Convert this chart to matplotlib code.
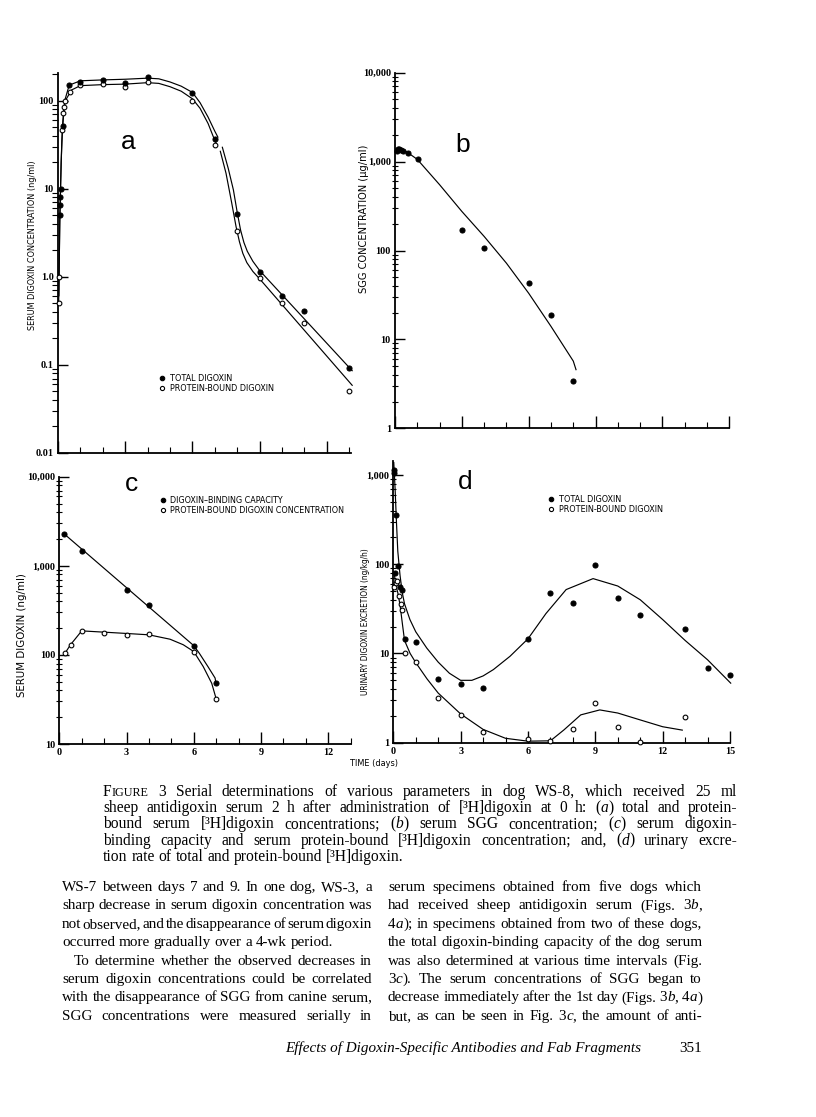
import os
import matplotlib
matplotlib.use("Agg")
import matplotlib.pyplot as plt
import numpy as np
from matplotlib import font_manager
from matplotlib.lines import Line2D
from matplotlib.ticker import LogLocator, NullFormatter

nan = np.nan

# ---- panel a: serum digoxin (ng/ml)
a_total_t = [0.08, 0.09, 0.1, 0.12, 0.21, 0.5, 1, 2, 3, 4, 6, 7, 8, 9, 10, 11, 13]
a_total_v = [5, 6.5, 8, 10, 51, 150, 164, 170, 160, 184, 121, 37, 5.1, 1.14, 0.61, 0.41, 0.093]
a_bound_t = [0.04, 0.05, 0.2, 0.24, 0.27, 0.31, 0.54, 1, 2, 3, 4, 6, 7, 8, 9, 10, 11, 13]
a_bound_v = [0.51, 1.0, 47, 73, 85, 99, 127, 150, 153, 144, 162, 100, 31, 3.35, 0.96, 0.51, 0.30, 0.051]
a_total_fit_t = [0.04, 0.08, 0.12, 0.17, 0.22, 0.3, 0.5, 1, 2, 3, 4, 4.5, 5, 5.5, 6, 6.34, 6.7,
                 7.0, 7.15, nan, 7.33, 7.6, 7.83, 8.0, 8.15, 8.3, 8.45, 8.7, 9.0, 13.15]
a_total_fit_v = [0.6, 5, 12, 35, 60, 100, 150, 168, 172, 175, 180, 177, 163, 146, 124, 95, 65,
                 45, 38, nan, 30, 17, 9.7, 5.4, 3.4, 2.45, 1.95, 1.5, 1.18, 0.085]
a_bound_fit_t = [0.03, 0.08, 0.14, 0.2, 0.26, 0.33, 0.6, 1, 2, 3, 4, 4.5, 5, 5.5, 6, 6.34, 6.7,
                 6.95, 7.08, nan, 7.24, 7.5, 7.75, 7.95, 8.1, 8.25, 8.43, 8.7, 9.03, 13.15]
a_bound_fit_v = [0.5, 4, 20, 47, 75, 100, 132, 148, 152, 154, 160, 157, 144, 128, 105, 82, 55,
                 38, 32, nan, 27, 15, 7, 3.7, 2.5, 1.85, 1.45, 1.15, 0.93, 0.058]

# ---- panel b: SGG (ug/ml)
b_t = [0.08, 0.13, 0.18, 0.25, 0.36, 0.57, 1.02, 3, 4, 6, 7, 8]
b_v = [1300, 1380, 1400, 1350, 1320, 1262, 1060, 168, 108, 43, 18.8, 3.4]
b_fit_t = [0.02, 0.5, 1, 2, 3, 4, 5, 6, 7, 8, 8.13]
b_fit_v = [1400, 1300, 1060, 550, 275, 144, 72, 33, 14, 5.7, 4.5]

# ---- panel c: binding capacity / protein-bound (ng/ml)
c_cap_t = [0.2, 1, 3, 4, 6, 7]
c_cap_v = [2300, 1450, 530, 360, 127, 48]
c_bound_t = [0.25, 0.5, 1, 2, 3, 4, 6, 7]
c_bound_v = [104, 130, 186, 175, 168, 170, 109, 32]
c_cap_fit_t = [0.2, 6.0, 6.25, 6.63, 6.95, 7.0]
c_cap_fit_v = [2300, 127, 104, 74, 55, 46]
c_bound_fit_t = [0.25, 0.5, 1, 2, 3, 4, 4.94, 5.53, 6, 6.42, 6.8, 7.0]
c_bound_fit_v = [104, 130, 186, 180, 174, 168, 150, 130, 109, 74, 48, 32]

# ---- panel d: urinary excretion (ng/kg/h)
d_total_t = [0.02, 0.04, 0.12, 0.08, 0.22, 0.3, 0.4, 0.5, 1, 2, 3, 4, 6, 7, 8, 9, 10, 11, 13, 14, 15]
d_total_v = [1150, 1050, 360, 80, 96, 56, 52, 14.6, 13.5, 5.2, 4.6, 4.1, 14.6, 48, 36.5, 97, 42, 27, 18.6, 6.9, 5.7]
d_bound_t = [0.05, 0.1, 0.15, 0.25, 0.35, 0.4, 0.5, 1, 2, 3, 4, 6, 7, 8, 9, 10, 11, 13]
d_bound_v = [55, 62, 65, 44, 36, 31, 10.2, 8.0, 3.2, 2.05, 1.31, 1.09, 1.04, 1.41, 2.81, 1.51, 1.03, 1.92]
d_total_fit_t = [0.02, 0.08, 0.14, 0.2, 0.3, 0.4, 0.5, 0.74, 1, 1.49, 2, 2.5, 3, 3.5, 4, 4.46, 5.2,
                 6, 6.8, 7.7, 8.9, 10, 11, 12, 13, 14, 15.05]
d_total_fit_v = [1400, 700, 300, 140, 75, 48, 36, 24, 17.5, 11.5, 8, 6, 5.0, 5.0, 5.6, 6.6, 9.3,
                 14.6, 28, 52, 69, 57, 40, 24, 14, 8.5, 4.6]
d_bound_fit_t = [0.04, 0.1, 0.2, 0.3, 0.4, 0.5, 0.75, 1, 1.5, 2, 3, 4, 5, 6, 7, 7.6, 8.35, 9.2,
                 10, 11, 12, 12.9]
d_bound_fit_v = [80, 60, 48, 35, 22, 14, 10, 7.9, 5.2, 3.6, 2.1, 1.41, 1.12, 1.04, 1.05, 1.39,
                 2.05, 2.33, 2.15, 1.8, 1.51, 1.38]

caption = [
    "FIGURE 3  Serial determinations of various parameters in dog WS-8, which received 25 ml",
    "sheep antidigoxin serum 2 h after administration of [³H]digoxin at 0 h: (_a_) total and protein-",
    "bound serum [³H]digoxin concentrations; (_b_) serum SGG concentration; (_c_) serum digoxin-",
    "binding capacity and serum protein-bound [³H]digoxin concentration; and, (_d_) urinary excre-",
    "tion rate of total and protein-bound [³H]digoxin.",
]
left_col = [
    "WS-7 between days 7 and 9. In one dog, WS-3, a",
    "sharp decrease in serum digoxin concentration was",
    "not observed, and the disappearance of serum digoxin",
    "occurred more gradually over a 4-wk period.",
    "To determine whether the observed decreases in",
    "serum digoxin concentrations could be correlated",
    "with the disappearance of SGG from canine serum,",
    "SGG concentrations were measured serially in",
]
right_col = [
    "serum specimens obtained from five dogs which",
    "had received sheep antidigoxin serum (Figs. 3_b_,",
    "4_a_); in specimens obtained from two of these dogs,",
    "the total digoxin-binding capacity of the dog serum",
    "was also determined at various time intervals (Fig.",
    "3_c_). The serum concentrations of SGG began to",
    "decrease immediately after the 1st day (Figs. 3_b_, 4_a_)",
    "but, as can be seen in Fig. 3_c_, the amount of anti-",
]
footer = "Effects of Digoxin-Specific Antibodies and Fab Fragments"
page_no = "351"

SERIF = 'Liberation Serif'
SANS = 'Liberation Sans'


def find_narrow():
    for f in font_manager.fontManager.ttflist:
        base = os.path.basename(f.fname).lower()
        if ('narrow' in base or 'condensed' in base) and 'sans' in base and not any(
                k in base for k in ('bold', 'italic', 'oblique', 'mono', 'light', 'semi', 'extra')):
            return font_manager.FontProperties(fname=f.fname)
    return font_manager.FontProperties(family=SANS)


NARROW = find_narrow()

W, H = 816, 1117
fig = plt.figure(figsize=(W / 100, H / 100), dpi=100)
fig.patch.set_facecolor('white')
renderer = fig.canvas.get_renderer()


def fp_size(size):
    p = NARROW.copy()
    p.set_size(size)
    return p


def sans_w(s, size):
    t = fig.text(0, 0, s, fontproperties=fp_size(size))
    w = t.get_window_extent(renderer).width
    t.remove()
    return w


def fit_sans(s, target, base=8.0, cap=9.0):
    return min(cap, base * target / sans_w(s, base))


def add_axes(left, right, top, bottom):
    return fig.add_axes([left / W, 1 - bottom / H, (right - left) / W, (bottom - top) / H])


def style(ax, xmax, xlim, ylim, yvals, ylabels, xlabels):
    ax.set_yscale('log')
    ax.set_xlim(0, xlim)
    ax.set_ylim(*ylim)
    for s in ['top', 'right']:
        ax.spines[s].set_visible(False)
    for s in ['left', 'bottom']:
        ax.spines[s].set_linewidth(1.3)
    ax.set_yticks(yvals)
    ax.set_yticklabels(ylabels)
    ax.yaxis.set_minor_locator(LogLocator(base=10, subs=range(2, 10)))
    ax.yaxis.set_minor_formatter(NullFormatter())
    ax.tick_params(axis='y', which='major', direction='in', length=7, width=1, pad=3)
    ax.tick_params(axis='y', which='minor', direction='inout', length=4, width=0.8)
    ax.set_xticks(range(0, xmax + 1, 3))
    ax.set_xticks(range(0, xmax + 1), minor=True)
    ax.tick_params(axis='x', which='major', direction='in', length=9, width=1, pad=3)
    ax.tick_params(axis='x', which='minor', direction='in', length=4, width=0.8)
    if xlabels:
        ax.set_xticklabels([str(v) for v in range(0, xmax + 1, 3)])
    else:
        ax.tick_params(axis='x', labelbottom=False)
    for lab in ax.get_xticklabels() + ax.get_yticklabels():
        lab.set_fontfamily(SERIF)
        lab.set_fontweight('bold')
        lab.set_fontsize(7.3)


def curve(ax, t, v):
    ax.plot(t, v, color='black', lw=0.85, solid_capstyle='butt', clip_on=False)


def dots(ax, t, v, filled):
    ax.plot(t, v, ls='none', marker='o', ms=3.6 if filled else 3.4,
            mfc='black' if filled else 'white', mec='black', mew=0.8, clip_on=False, zorder=5)


def legend(ax, labels, xpx, ypx, target):
    size = fit_sans(labels[1], target)
    h = [Line2D([], [], ls='none', marker='o', ms=3.2, mfc='black', mec='black', mew=0.8),
         Line2D([], [], ls='none', marker='o', ms=3.0, mfc='white', mec='black', mew=0.8)]
    x, y = ax.transAxes.inverted().transform((xpx, H - ypx))
    ax.legend(h, labels, loc='upper left', bbox_to_anchor=(x, y), frameon=False,
              handlelength=0.5, handletextpad=0.55, labelspacing=0.1, borderpad=0,
              borderaxespad=0, prop=fp_size(size))


def ylab(x, y, s, length):
    fig.text(x / W, 1 - y / H, s, rotation=90, ha='center', va='center',
             fontproperties=fp_size(fit_sans(s, length, cap=8.2)))


def letter(x, y, s):
    fig.text(x / W, 1 - y / H, s, family=SANS, fontsize=19, ha='center', va='center')


# panel a
ax = add_axes(58, 351, 73, 453)
style(ax, 13, 13.08, (0.01, 206), [0.01, 0.1, 1, 10, 100], ['0.01', '0.1', '1.0', '10', '100'], False)
ax.tick_params(axis='y', which='minor', direction='out', length=4)
curve(ax, a_total_fit_t, a_total_fit_v)
curve(ax, a_bound_fit_t, a_bound_fit_v)
dots(ax, a_bound_t, a_bound_v, False)
dots(ax, a_total_t, a_total_v, True)
legend(ax, ['TOTAL DIGOXIN', 'PROTEIN-BOUND DIGOXIN'], 160, 374, 106)
letter(128, 142, 'a')
ylab(33, 245, 'SERUM DIGOXIN CONCENTRATION (ng/ml)', 170)

# panel b
ax = add_axes(395, 729.3, 72.7, 428.3)
style(ax, 15, 15, (1, 10000), [1, 10, 100, 1000, 10000], ['1', '10', '100', '1,000', '10,000'], False)
curve(ax, b_fit_t, b_fit_v)
dots(ax, b_t, b_v, True)
letter(463, 145, 'b')
ylab(364, 219, 'SGG CONCENTRATION (\u00b5g/ml)', 150)

# panel c
ax = add_axes(59.3, 350.7, 476.7, 744)
style(ax, 13, 13, (10, 10000), [10, 100, 1000, 10000], ['10', '100', '1,000', '10,000'], True)
curve(ax, c_cap_fit_t, c_cap_fit_v)
curve(ax, c_bound_fit_t, c_bound_fit_v)
dots(ax, c_bound_t, c_bound_v, False)
dots(ax, c_cap_t, c_cap_v, True)
legend(ax, ['DIGOXIN\u2013BINDING CAPACITY', 'PROTEIN-BOUND DIGOXIN CONCENTRATION'], 161, 496, 176)
letter(131, 484, 'c')
ylab(22, 635, 'SERUM DIGOXIN (ng/ml)', 148)

# panel d
ax = add_axes(393.3, 730, 461, 742.7)
style(ax, 15, 15, (1, 1435), [1, 10, 100, 1000], ['1', '10', '100', '1,000'], True)
curve(ax, d_total_fit_t, d_total_fit_v)
curve(ax, d_bound_fit_t, d_bound_fit_v)
dots(ax, d_bound_t, d_bound_v, False)
dots(ax, d_total_t, d_total_v, True)
legend(ax, ['TOTAL DIGOXIN', 'PROTEIN-BOUND DIGOXIN'], 549, 495, 106)
letter(465, 482, 'd')
ylab(365, 622, 'URINARY DIGOXIN EXCRETION (ng/kg/h)', 148)

fig.text(374 / W, 1 - 763 / H, 'TIME (days)', fontproperties=fp_size(fit_sans('TIME (days)', 48)),
         ha='center', va='center')

# ---- text blocks (justified word by word)
_wcache = {}


def text_w(s, ital, size):
    key = (s, ital, size)
    if key not in _wcache:
        t = fig.text(0, 0, s, fontsize=size, family=SERIF, style='italic' if ital else 'normal')
        _wcache[key] = t.get_window_extent(renderer).width
        t.remove()
    return _wcache[key]


def pieces_of(word, size):
    if word == 'FIGURE':
        return [('F', False, size), ('IGURE', False, size * 0.78)]
    out = []
    for i, seg in enumerate(word.split('_')):
        if seg:
            out.append((seg, i % 2 == 1, size))
    return out


def natural_w(line, size, squeeze=1.0):
    words = [pieces_of(w, size) for w in line.split()]
    space = text_w('a a', False, size) - text_w('aa', False, size)
    return (sum(sum(text_w(s, it, sz) for s, it, sz in w) for w in words)
            + squeeze * space * (len(words) - 1))


def fit_size(lines, width, base=11.0, squeeze=1.0):
    return base * width / max(natural_w(l, base, squeeze) for l in lines)


def put_line(line, x0, x1, y, size, justify=True):
    words = [pieces_of(w, size) for w in line.split()]
    widths = [sum(text_w(s, it, sz) for s, it, sz in w) for w in words]
    space = text_w('a a', False, size) - text_w('aa', False, size)
    if justify and len(words) > 1:
        gap = (x1 - x0 - sum(widths)) / (len(words) - 1)
    else:
        gap = space
    x = x0
    for w, wd in zip(words, widths):
        xx = x
        for s, it, sz in w:
            fig.text(xx / W, 1 - y / H, s, fontsize=sz, family=SERIF,
                     style='italic' if it else 'normal', va='baseline', ha='left')
            xx += text_w(s, it, sz)
        x += wd + gap


cap_size = min(11.2, fit_size(caption[:4], 737 - 103 - 4))
for i, line in enumerate(caption):
    put_line(line, 103, 737, 796 + i * 16.2, cap_size, justify=i < len(caption) - 1)

# body: pick a size from the typical line, the tightest lines just squeeze their spaces
left_just = left_col[:3] + left_col[5:]
nat = sorted(natural_w(l, 11.0) for l in left_just + right_col)
body_size = min(11.0 * 309 / nat[len(nat) // 2] * 0.99,
                fit_size(left_just + right_col, 310, squeeze=0.45))
for i, line in enumerate(left_col):
    x0 = 74 if i == 4 else 62
    put_line(line, x0, 372, 891 + i * 18.4, body_size, justify=i != 3)

for i, line in enumerate(right_col):
    put_line(line, 388, 702, 891 + i * 18.4, body_size, justify=True)

foot_size = 11.0 * 355 / text_w(footer, True, 11.0)
fig.text(285 / W, 1 - 1052 / H, footer, fontsize=foot_size, family=SERIF, style='italic',
         ha='left', va='baseline')
fig.text(702 / W, 1 - 1052 / H, page_no, fontsize=foot_size, family=SERIF, ha='right', va='baseline')

fig.savefig('out.png', dpi=100, facecolor='white')
